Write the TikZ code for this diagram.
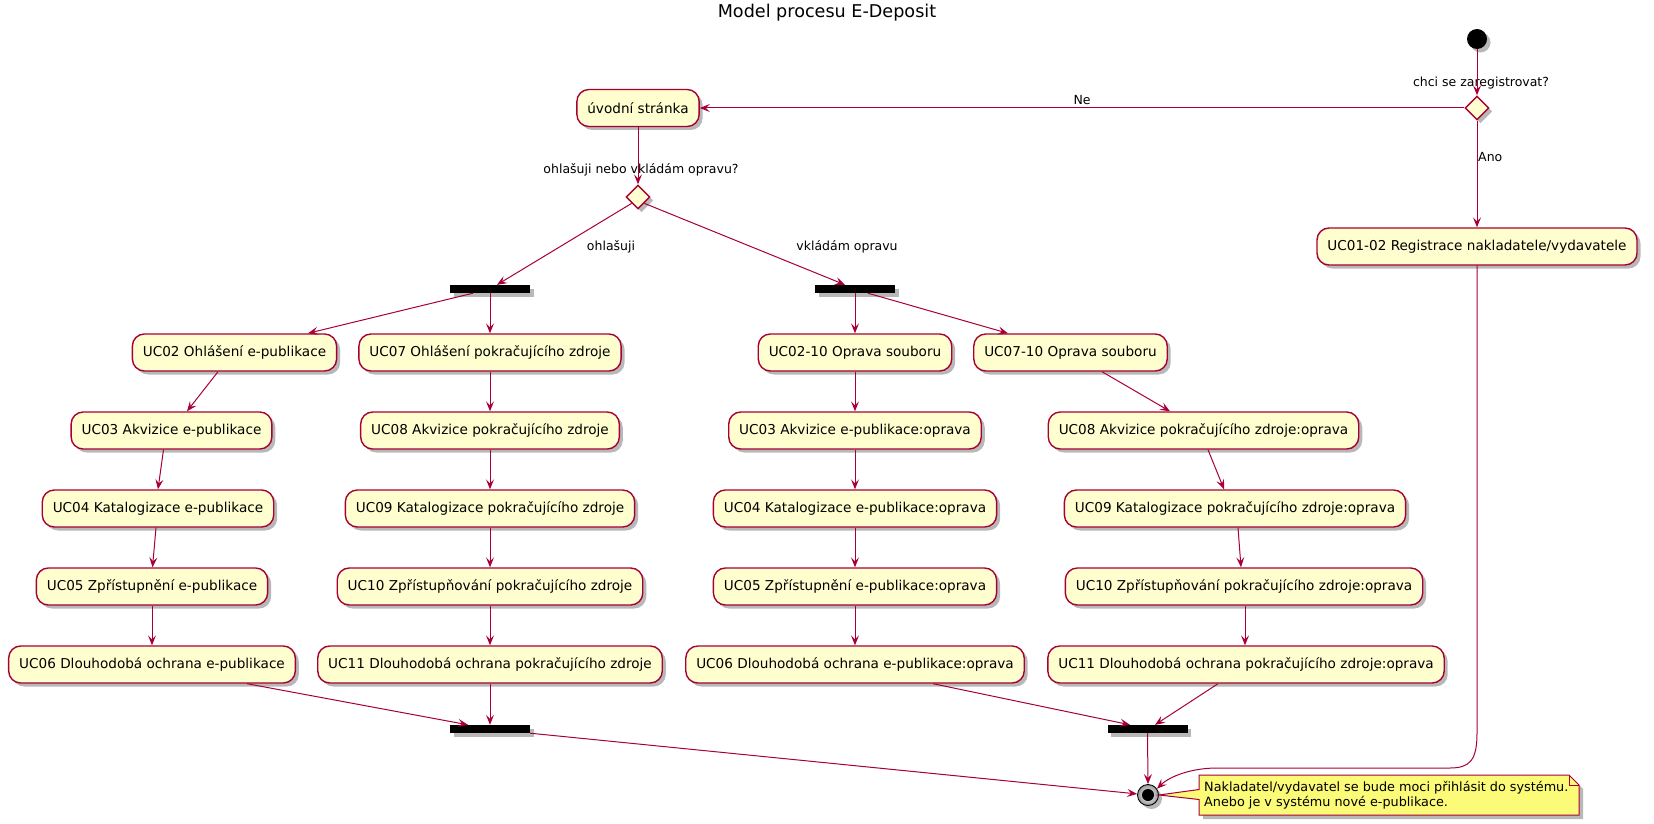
\documentclass[tikz,border=0pt]{standalone}
\usepackage{fontspec}
\setmainfont{DejaVu Sans}
\usetikzlibrary{arrows.meta,shapes.geometric,shadows,calc}
\definecolor{pline}{HTML}{A80036}
\definecolor{pfill}{HTML}{FEFECE}
\definecolor{pnote}{HTML}{FBFB77}
\begin{document}
\begin{tikzpicture}[x=1pt,y=-1pt,
  shad/.style={drop shadow={shadow xshift=3.5pt,shadow yshift=-3.5pt,fill=black,opacity=0.28}},
  act/.style={draw=pline, line width=1.4pt, fill=pfill, rounded corners=12pt,
    minimum height=37pt, inner xsep=10.5pt, inner ysep=0pt,
    font=\fontsize{13.6}{16}\selectfont, shad},
  dec/.style={diamond, draw=pline, line width=1.4pt, fill=pfill, minimum width=24pt,
    minimum height=24pt, inner sep=0pt, shape aspect=1, shad},
  bar/.style={fill=black, minimum width=80pt, minimum height=8pt, inner sep=0pt, shad},
  lab/.style={font=\fontsize{12.5}{15}\selectfont, inner sep=0pt},
  conn/.style={draw=pline, line width=1pt, -{Stealth[length=10pt,width=8pt,inset=4pt]}},
]
\useasboundingbox (0,0) rectangle (1654,824);
\fill[white] (0,0) rectangle (1654,824);

% title
\node[font=\fontsize{17.6}{20}\selectfont, inner sep=0pt] (title) at (827,13) {Model procesu E-Deposit};

% start / decisions
\node[circle, fill=black, minimum size=20pt, inner sep=0pt, shad] (startc) at (1477,39) {};
\node[dec] (d1) at (1477,108) {};
\node[lab] (d1lab) at (1481,83) {chci se zaregistrovat?};
\node[act] (uvod) at (638,108) {úvodní stránka};
\node[act] (uc0102) at (1477,246.5) {UC01-02 Registrace nakladatele/vydavatele};
\node[dec] (d2) at (638,197) {};
\node[lab] (d2lab) at (641,170) {ohlašuji nebo vkládám opravu?};

% bars
\node[bar] (f1) at (490,289) {};
\node[bar] (f2) at (855,289) {};
\node[bar] (j1) at (490,729) {};
\node[bar] (j2) at (1147.5,729) {};

% row 1
\node[act] (uc02) at (234.5,352.5) {UC02 Ohlášení e-publikace};
\node[act] (uc07) at (490,352.5) {UC07 Ohlášení pokračujícího zdroje};
\node[act] (uc0210) at (855,352.5) {UC02-10 Oprava souboru};
\node[act] (uc0710) at (1070.5,352.5) {UC07-10 Oprava souboru};
% row 2
\node[act] (uc03) at (171.5,430.5) {UC03 Akvizice e-publikace};
\node[act] (uc08) at (490,430.5) {UC08 Akvizice pokračujícího zdroje};
\node[act] (uc03o) at (855,430.5) {UC03 Akvizice e-publikace:oprava};
\node[act] (uc08o) at (1203.5,430.5) {UC08 Akvizice pokračujícího zdroje:oprava};
% row 3
\node[act] (uc04) at (158,508.5) {UC04 Katalogizace e-publikace};
\node[act] (uc09) at (490,508.5) {UC09 Katalogizace pokračujícího zdroje};
\node[act] (uc04o) at (855,508.5) {UC04 Katalogizace e-publikace:oprava};
\node[act] (uc09o) at (1235,508.5) {UC09 Katalogizace pokračujícího zdroje:oprava};
% row 4
\node[act] (uc05) at (152,586.5) {UC05 Zpřístupnění e-publikace};
\node[act] (uc10) at (490,586.5) {UC10 Zpřístupňování pokračujícího zdroje};
\node[act] (uc05o) at (855,586.5) {UC05 Zpřístupnění e-publikace:oprava};
\node[act] (uc10o) at (1244,586.5) {UC10 Zpřístupňování pokračujícího zdroje:oprava};
% row 5
\node[act] (uc06) at (152,664.5) {UC06 Dlouhodobá ochrana e-publikace};
\node[act] (uc11) at (490,664.5) {UC11 Dlouhodobá ochrana pokračujícího zdroje};
\node[act] (uc06o) at (855,664.5) {UC06 Dlouhodobá ochrana e-publikace:oprava};
\node[act] (uc11o) at (1246,664.5) {UC11 Dlouhodobá ochrana pokračujícího zdroje:oprava};

% end circle
\node[circle, draw=black, line width=0.9pt, inner color=white, outer color=black!40,
  minimum size=21pt, inner sep=0pt, shad] (endc) at (1148,795) {};
\fill[black] (endc.center) circle (6pt);

% note
\fill[black, opacity=0.28] (1203,779) -- (1573,779) -- (1583,789) -- (1583,819) -- (1203,819) -- cycle;
\draw[pline, line width=1pt, fill=pnote] (1199,775) -- (1569,775) -- (1579,785) -- (1579,815)
  -- (1199,815) -- (1199,799.5) -- (endc.east) -- (1199,789.5) -- cycle;
\draw[pline, line width=1pt] (1569,775) -- (1569,785) -- (1579,785);
\node[font=\fontsize{12.8}{15}\selectfont, align=left, anchor=west, inner sep=0pt] (note) at (1204,795.5)
  {Nakladatel/vydavatel se bude moci přihlásit do systému.\\Anebo je v systému nové e-publikace.};

% connectors top
\draw[conn] (startc) -- (d1);
\draw[conn] (d1.west) -- node[lab, above=3pt] (ne) {Ne} (uvod.east);
\draw[conn] (d1.south) -- (uc0102.north);
\node[lab, anchor=west] (ano) at (1478,157) {Ano};
\draw[conn] (uvod.south) -- (d2.north);
\draw[conn] (d2.south west) -- ([xshift=7pt]f1.north);
\draw[conn] (d2.south east) -- ([xshift=-10pt]f2.north);
\node[lab] (ohl) at (611,247) {ohlašuji};
\node[lab] (vkl) at (847,247) {vkládám opravu};

% left branch
\draw[conn] ([xshift=-17pt]f1.south) -- ([xshift=73.5pt]uc02.north);
\draw[conn] (f1.south) -- (uc07.north);
\draw[conn] ([xshift=-16.5pt]uc02.south) -- ([xshift=15.5pt]uc03.north);
\draw[conn] ([xshift=-8pt]uc03.south) -- (uc04.north);
\draw[conn] ([xshift=-2pt]uc04.south) -- ([xshift=0.5pt]uc05.north);
\draw[conn] (uc05.south) -- (uc06.north);
\draw[conn] (uc07.south) -- (uc08.north);
\draw[conn] (uc08.south) -- (uc09.north);
\draw[conn] (uc09.south) -- (uc10.north);
\draw[conn] (uc10.south) -- (uc11.north);
\draw[conn] ([xshift=95pt]uc06.south) -- ([xshift=-22pt]j1.north);
\draw[conn] (uc11.south) -- (j1.north);
\draw[conn] (j1.south east) -- (endc);

% right branch
\draw[conn] (f2.south) -- (uc0210.north);
\draw[conn] ([xshift=13pt]f2.south) -- ([xshift=-62.5pt]uc0710.north);
\draw[conn] (uc0210.south) -- (uc03o.north);
\draw[conn] (uc03o.south) -- (uc04o.north);
\draw[conn] (uc04o.south) -- (uc05o.north);
\draw[conn] (uc05o.south) -- (uc06o.north);
\draw[conn] ([xshift=31.5pt]uc0710.south) -- ([xshift=-33.5pt]uc08o.north);
\draw[conn] ([xshift=4.5pt]uc08o.south) -- ([xshift=-11pt]uc09o.north);
\draw[conn] ([xshift=3pt]uc09o.south) -- ([xshift=-3pt]uc10o.north);
\draw[conn] ([xshift=1pt]uc10o.south) -- ([xshift=-1pt]uc11o.north);
\draw[conn] ([xshift=-28pt]uc11o.south) -- ([xshift=7.5pt]j2.north);
\draw[conn] ([xshift=78pt]uc06o.south) -- ([xshift=-17.5pt]j2.north);
\draw[conn] (j2.south) -- (endc.north);

% registration to end
\draw[conn] (uc0102.south) -- (1477,733) .. controls (1477,760) and (1470,768) .. (1450,768)
  -- (1217,768) .. controls (1192,768) and (1170,776) .. (endc.35);
\end{tikzpicture}
\end{document}
